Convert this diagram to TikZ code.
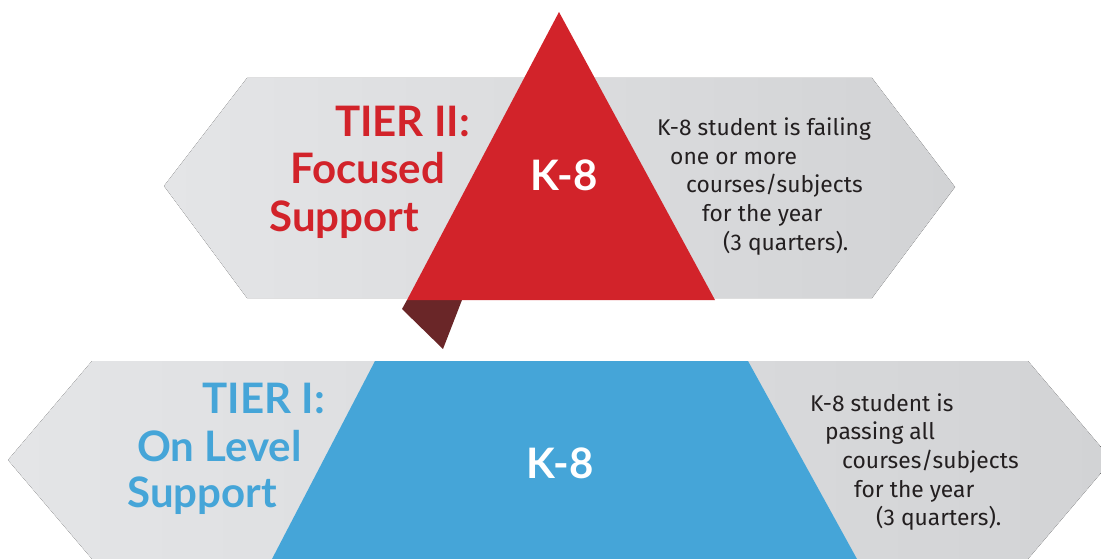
\documentclass[tikz,border=0pt]{standalone}
\usepackage{fontspec}
\newfontfamily\latofont{Lato}
\newfontfamily\bodyfont{Fira Sans}
\definecolor{tred}{HTML}{D2232A}
\definecolor{tblue}{HTML}{45A5D8}
\definecolor{tmaroon}{HTML}{6A2628}
\definecolor{tgrayL}{HTML}{E4E5E7}
\definecolor{tgrayR}{HTML}{D2D3D5}
\definecolor{ttext}{HTML}{231F20}
\tikzset{
  band/.style={left color=tgrayL, right color=tgrayR, draw=none},
  title/.style={font=\latofont\bfseries\fontsize{42}{42}\selectfont, anchor=base east, inner sep=0pt},
  kbig/.style={font=\latofont\bfseries\fontsize{42}{42}\selectfont, text=white, anchor=base, inner sep=0pt},
  desc/.style={font=\bodyfont\fontsize{22.8}{22.8}\selectfont, text=ttext, anchor=base west, inner sep=0pt},
}
\begin{document}
\begin{tikzpicture}[x=1pt,y=-1pt]
\useasboundingbox (0,0) rectangle (1101,559);
\clip (0,0) rectangle (1101,559);
% top band
\fill[band] (164,186) -- (247,78) -- (872,78) -- (955,187) -- (872,298) -- (247,298) -- cycle;
\fill[tmaroon] (407,300) -- (402,309) -- (443,349) -- (462,300) -- cycle;
\fill[tred] (559,12) -- (407,300) -- (715,300) -- cycle;
% bottom band
\fill[band] (8,460) -- (92,361) -- (1028,361) -- (1112,460) -- (1028,559) -- (92,559) -- cycle;
\fill[tblue] (375,361) -- (748,361) -- (857,559) -- (272,559) -- cycle;
% top texts
\node[title, text=tred] (t2a) at (470,137) {TIER II:};
\node[title, text=tred] (t2b) at (445,183) {Focused};
\node[title, text=tred] (t2c) at (419,231) {Support};
\node[kbig] (k2) at (564,191) {K-8};
\node[desc] (d2a) at (657,136) {K-8 student is failing};
\node[desc] (d2b) at (670,165) {one or more};
\node[desc] (d2c) at (686,193) {courses/subjects};
\node[desc] (d2d) at (702,222) {for the year};
\node[desc] (d2e) at (723,250) {(3 quarters).};
% bottom texts
\node[title, text=tblue] (t1a) at (325,413) {TIER I:};
\node[title, text=tblue] (t1b) at (302,461) {On Level};
\node[title, text=tblue] (t1c) at (277,507) {Support};
\node[kbig] (k1) at (560,478) {K-8};
\node[desc] (d1a) at (810,411) {K-8 student is};
\node[desc] (d1b) at (825,439) {passing all};
\node[desc] (d1c) at (842,468) {courses/subjects};
\node[desc] (d1d) at (854,497) {for the year};
\node[desc] (d1e) at (876,525) {(3 quarters).};
\end{tikzpicture}
\end{document}
